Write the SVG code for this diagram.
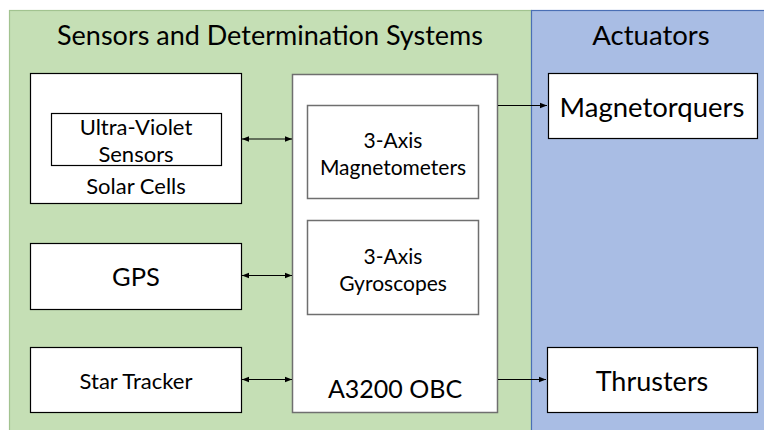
<svg xmlns="http://www.w3.org/2000/svg" width="764" height="430" viewBox="0 0 764 430">
<defs>
<marker id="ah" viewBox="0 0 10 10" refX="10" refY="5" markerWidth="7" markerHeight="7" markerUnits="userSpaceOnUse" orient="auto-start-reverse">
<path d="M0,1 L10,5 L0,9 z" fill="#000"/>
</marker>
<style>
text{font-family:Lato,"Liberation Sans",sans-serif;fill:#000;text-anchor:middle;dominant-baseline:central}
.box{fill:#fff;stroke:#000;stroke-width:1.2}
.gbox{fill:#fff;stroke:#6f6f6f;stroke-width:1.5}
.ln{stroke:#000;stroke-width:1.2;fill:none}
.t27{font-size:27.5px}
.t25{font-size:25.5px}
.t22{font-size:22px}
.t21{font-size:21px}
</style>
</defs>
<rect x="0" y="0" width="764" height="430" fill="#fff"/>
<g id="sensors-panel">
<rect x="9.5" y="10.5" width="522" height="425" fill="#C5DFB5" stroke="#A2C390" stroke-width="1.2"/>
<text x="270" y="34" style="font-size:27px">Sensors and Determination Systems</text>
</g>
<g id="actuators-panel">
<rect x="531.5" y="10.5" width="240" height="425" fill="#A9BDE4" stroke="#4A6FB5" stroke-width="1.2"/>
<text class="t27" x="651" y="34">Actuators</text>
</g>
<g id="solar-cells">
<rect class="box" x="30.5" y="73.5" width="211" height="130"/>
<text class="t22" x="136" y="185">Solar Cells</text>
</g>
<g id="uv-sensors">
<rect class="box" x="51.5" y="113.5" width="170" height="52"/>
<text class="t22" x="136" y="126">Ultra-Violet</text>
<text class="t22" x="136" y="153">Sensors</text>
</g>
<g id="gps">
<rect class="box" x="30.5" y="243.5" width="211" height="66"/>
<text class="t25" x="136" y="276">GPS</text>
</g>
<g id="star-tracker">
<rect class="box" x="30.5" y="347.5" width="211" height="65"/>
<text class="t22" x="136" y="380">Star Tracker</text>
</g>
<g id="obc">
<rect class="gbox" x="292.5" y="74.5" width="205" height="338"/>
<text x="395" y="388" style="font-size:25px">A3200 OBC</text>
</g>
<g id="magnetometers">
<rect class="gbox" x="307.5" y="105.5" width="171" height="93"/>
<text class="t21" x="393" y="139">3-Axis</text>
<text class="t21" x="393" y="166">Magnetometers</text>
</g>
<g id="gyroscopes">
<rect class="gbox" x="307.5" y="220.5" width="171" height="94"/>
<text class="t21" x="393" y="255">3-Axis</text>
<text class="t21" x="393" y="282">Gyroscopes</text>
</g>
<g id="magnetorquers">
<rect class="box" x="548.5" y="73.5" width="209" height="65"/>
<text class="t27" x="652" y="106">Magnetorquers</text>
</g>
<g id="thrusters">
<rect class="box" x="547.5" y="347.5" width="210" height="65"/>
<text x="652" y="380" style="font-size:27px">Thrusters</text>
</g>
<g id="connectors">
<line class="ln" x1="242" y1="139" x2="292" y2="139" marker-start="url(#ah)" marker-end="url(#ah)"/>
<line class="ln" x1="242" y1="275.5" x2="292" y2="275.5" marker-start="url(#ah)" marker-end="url(#ah)"/>
<line class="ln" x1="242" y1="379.5" x2="292" y2="379.5" marker-start="url(#ah)" marker-end="url(#ah)"/>
<line class="ln" x1="498" y1="105.5" x2="547" y2="105.5" marker-end="url(#ah)"/>
<line class="ln" x1="498" y1="379.5" x2="546" y2="379.5" marker-end="url(#ah)"/>
</g>
</svg>
